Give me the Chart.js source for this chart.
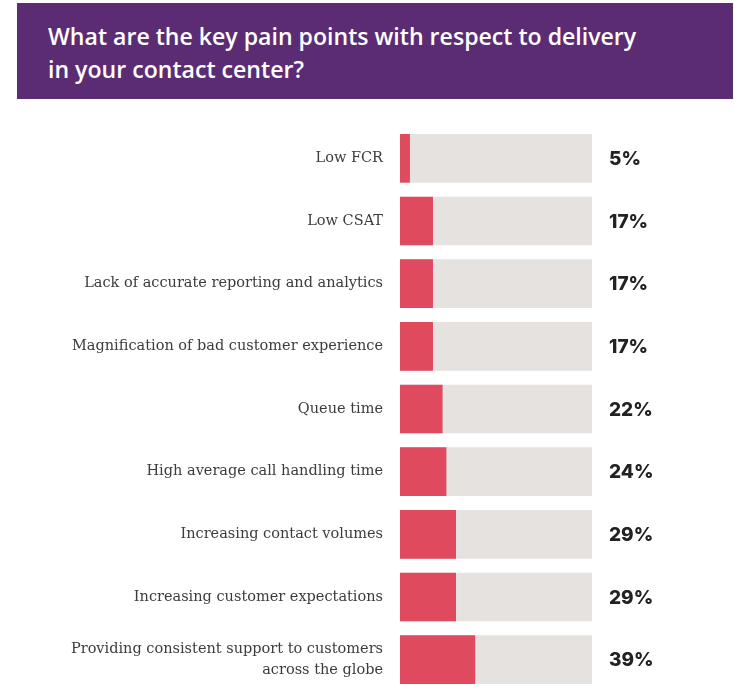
<!DOCTYPE html>
<html>
<head>
<meta charset="utf-8">
<script src="https://cdn.jsdelivr.net/npm/chart.js@4"></script>
<style>
  body { margin: 0; background: #fff; width: 734px; height: 698px; overflow: hidden; position: relative; }
  #banner {
    position: absolute; left: 17px; top: 3px; width: 716px; height: 96px;
    background: #5b2c73; box-sizing: border-box; padding: 17px 0 0 31px;
    color: #fff; font-family: 'Open Sans', sans-serif; font-weight: 600;
    font-size: 23.1px; line-height: 33px;
  }
  #wrap { position: absolute; left: 0; top: 0; width: 734px; height: 698px; }
</style>
</head>
<body>
<div id="wrap"><canvas id="myChart" width="734" height="698"></canvas></div>
<div id="banner">What are the key pain points with respect to delivery<br>in your contact center?</div>
<script>
const categories = [
  'Low FCR',
  'Low CSAT',
  'Lack of accurate reporting and analytics',
  'Magnification of bad customer experience',
  'Queue time',
  'High average call handling time',
  'Increasing contact volumes',
  'Increasing customer expectations',
  ['Providing consistent support to customers', 'across the globe'],
]
const percentValues = [5, 17, 17, 17, 22, 24, 29, 29, 39]
const fullScale = [100, 100, 100, 100, 100, 100, 100, 100, 100]
const valueLabels = ['5%', '17%', '17%', '17%', '22%', '24%', '29%', '29%', '39%']

// writes the percentage to the right of each gray bar
const valueLabelPlugin = {
  id: 'valueLabels',
  afterDatasetsDraw(chart) {
    const ctx = chart.ctx
    const meta = chart.getDatasetMeta(1)
    ctx.save()
    ctx.fillStyle = '#222'
    ctx.font = '800 19px Inter'
    ctx.textBaseline = 'middle'
    meta.data.forEach((bar, i) => {
      ctx.fillText(valueLabels[i], bar.x + 17, bar.y + 1)
    })
    ctx.restore()
  },
}

const ctx = document.getElementById('myChart').getContext('2d')
const chart = new Chart(ctx, {
  type: 'bar',
  data: {
    labels: categories,
    datasets: [
      {
        data: percentValues,
        backgroundColor: '#e04a5f',
        barThickness: 48,
      },
      {
        data: fullScale,
        backgroundColor: '#e5e2e0',
        barThickness: 48,
      },
    ],
  },
  options: {
    responsive: false,
    animation: false,
    indexAxis: 'y',
    layout: { padding: { top: 127, bottom: 7, right: 142, left: 0 } },
    datasets: { bar: { grouped: false } },
    plugins: { legend: { display: false }, tooltip: { enabled: false } },
    scales: {
      x: { min: 0, max: 100, display: false },
      y: {
        grid: { display: false, drawTicks: false },
        border: { display: false },
        ticks: {
          color: '#3c3c3c',
          padding: 17,
          font: { family: 'DejaVu Serif', size: 14.5, lineHeight: 1.45 },
        },
        afterFit(scale) {
          scale.width = 400
          // the two-line last label should not shrink the plot area
          scale.paddingTop = 0
          scale.paddingBottom = 0
        },
      },
    },
  },
  plugins: [valueLabelPlugin],
})
</script>
</body>
</html>
